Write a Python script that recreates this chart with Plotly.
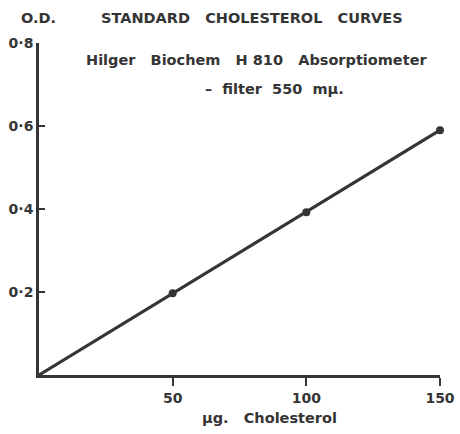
import plotly.graph_objects as go

# Standard cholesterol calibration: optical density vs cholesterol amount
cholesterol_ug = [0, 50, 100, 150]
optical_density = [0.0, 0.197, 0.392, 0.59]
x_ticks = [50, 100, 150]
x_tick_labels = ["50", "100", "150"]
y_ticks = [0.2, 0.4, 0.6, 0.8]
y_tick_labels = ["0·2", "0·4", "0·6", "0·8"]

ink = "#353535"
font_family = "DejaVu Sans, Arial, sans-serif"

W, H = 460, 434
L, R, T, B = 39, 20, 43, 59

fig = go.Figure()
fig.add_trace(go.Scatter(
    x=cholesterol_ug, y=optical_density, mode="lines",
    line=dict(color=ink, width=3.2), cliponaxis=False, hoverinfo="skip",
))
fig.add_trace(go.Scatter(
    x=cholesterol_ug[1:], y=optical_density[1:], mode="markers",
    marker=dict(color=ink, size=8), cliponaxis=False,
))

fig.update_layout(
    width=W, height=H,
    margin=dict(l=L, r=R, t=T, b=B),
    paper_bgcolor="white", plot_bgcolor="white",
    showlegend=False,
    font=dict(family=font_family, color=ink),
    xaxis=dict(
        range=[0, 150], showgrid=False, zeroline=False, automargin=False,
        showline=True, linecolor=ink, linewidth=2.6,
        ticks="outside", ticklen=8, tickwidth=2.4, tickcolor=ink,
        tickvals=x_ticks, ticktext=x_tick_labels,
        tickfont=dict(size=14, weight="bold", color=ink),
    ),
    yaxis=dict(
        range=[0, 0.8], showgrid=False, zeroline=False, automargin=False,
        showline=True, linecolor=ink, linewidth=2.6,
        ticks="inside", ticklen=6, tickwidth=2.4, tickcolor=ink,
        tickvals=y_ticks, ticktext=y_tick_labels,
        tickfont=dict(size=14, weight="bold", color=ink),
    ),
)

# Header and axis captions, placed by pixel position within the figure
annotations = [
    dict(text="O.D.", x=38, y=18, size=14.5),
    dict(text="STANDARD   CHOLESTEROL   CURVES", x=252, y=18, size=14.5),
    dict(text="Hilger   Biochem   H 810   Absorptiometer", x=256, y=60, size=14.5),
    dict(text="–  filter  550  mμ.", x=274, y=89, size=14.5),
    dict(text="μg.   Cholesterol", x=269, y=418, size=14.5),
]
pw, ph = W - L - R, H - T - B
for a in annotations:
    fig.add_annotation(
        text=a["text"], x=(a["x"] - L) / pw, y=(H - B - a["y"]) / ph,
        xref="paper", yref="paper", xanchor="center", yanchor="middle",
        showarrow=False,
        font=dict(size=a["size"], family=font_family, color=ink, weight="bold"),
    )

fig.write_html("out.html")
